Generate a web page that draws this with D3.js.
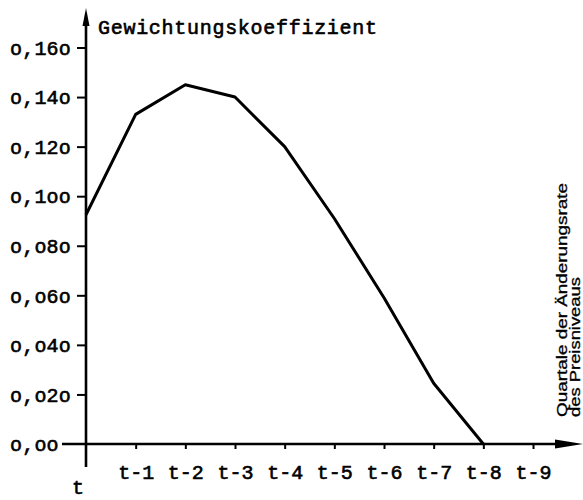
<!DOCTYPE html>
<html>
<head>
<meta charset="utf-8">
<script src="https://cdn.jsdelivr.net/npm/d3@7"></script>
<style>
  html, body { margin: 0; padding: 0; background: #fff; }
  svg { display: block; }
</style>
</head>
<body>
<svg id="chart" width="583" height="500"></svg>
<script>
// ---- data ----
const categories = ["t", "t-1", "t-2", "t-3", "t-4", "t-5", "t-6", "t-7", "t-8", "t-9"];
const weightCategories = ["t", "t-1", "t-2", "t-3", "t-4", "t-5", "t-6", "t-7", "t-8"];
const weights = [0.0925, 0.133, 0.145, 0.140, 0.120, 0.091, 0.059, 0.0245, 0.0];
const yTickValues = [0, 0.02, 0.04, 0.06, 0.08, 0.10, 0.12, 0.14, 0.16];
const yTickLabels = ["o,oo", "o,o2o", "o,o4o", "o,o6o", "o,o8o", "o,1oo", "o,12o", "o,14o", "o,16o"];
const yTitle = "Gewichtungskoeffizient";
const xTitleLines = ["Quartale der Änderungsrate", "des Preisniveaus"];

// ---- layout ----
const svg = d3.select("#chart");
const mono = "'Liberation Mono', 'DejaVu Sans Mono', monospace";
const sans = "'Liberation Sans', Arial, sans-serif";

const x = d3.scalePoint().domain(categories).range([86, 533]);
const y = d3.scaleLinear().domain([0, 0.16]).range([444, 47.5]);
const x0 = x("t"), y0 = y(0);

function typewriter(sel) {
  sel.attr("font-family", mono)
    .attr("font-size", 20)
    .attr("fill", "#000")
    .attr("stroke", "#000")
    .attr("stroke-width", 0.6);
}

// axis lines
svg.append("line").attr("x1", x0).attr("x2", x0).attr("y1", 20).attr("y2", 467)
  .attr("stroke", "#000").attr("stroke-width", 2.6);
svg.append("path")
  .attr("d", `M${x0},8 L${x0 - 3.5},26 L${x0 + 3.5},26 Z`)
  .attr("fill", "#000");
svg.append("line").attr("x1", 62).attr("x2", 570).attr("y1", y0).attr("y2", y0)
  .attr("stroke", "#000").attr("stroke-width", 2.6);
svg.append("path")
  .attr("d", `M583,${y0} L555,${y0 - 4.5} L555,${y0 + 4.5} Z`)
  .attr("fill", "#000");

// y axis ticks and labels
const yAxis = d3.axisLeft(y)
  .tickValues(yTickValues.slice(1))
  .tickSize(9)
  .tickFormat((d) => yTickLabels[yTickValues.indexOf(d)]);
const gy = svg.append("g").attr("transform", `translate(${x0},0)`).call(yAxis);
gy.select(".domain").remove();
gy.selectAll(".tick line").attr("stroke", "#000").attr("stroke-width", 2);
gy.selectAll(".tick text").remove();

svg.append("g").selectAll("text")
  .data(yTickValues)
  .join("text")
  .attr("x", 10)
  .attr("y", (d) => y(d))
  .attr("dy", "0.36em")
  .attr("letter-spacing", 0.2)
  .call(typewriter)
  .text((d, i) => yTickLabels[i]);

// x axis ticks and labels
const xAxis = d3.axisBottom(x)
  .tickValues(categories.slice(1))
  .tickSize(5)
  .tickFormat((d) => d);
const gx = svg.append("g").attr("transform", `translate(0,${y0})`).call(xAxis);
gx.select(".domain").remove();
gx.selectAll(".tick line").attr("stroke", "#000").attr("stroke-width", 2);
gx.selectAll(".tick text")
  .attr("y", 35)
  .attr("dy", 0)
  .call(typewriter);

// "t" label beneath the origin
svg.append("text")
  .attr("x", x0 - 8)
  .attr("y", 494)
  .attr("text-anchor", "middle")
  .call(typewriter)
  .text(categories[0]);

// y title
svg.append("text")
  .attr("x", 98)
  .attr("y", 34)
  .attr("textLength", 279)
  .attr("lengthAdjust", "spacing")
  .call(typewriter)
  .text(yTitle);

// x title (rotated)
const xt = svg.append("g").attr("transform", "translate(567,417) rotate(-90)");
xt.append("text")
  .attr("x", 0).attr("y", 0)
  .attr("font-family", sans)
  .attr("font-size", 14)
  .attr("textLength", 234)
  .attr("lengthAdjust", "spacingAndGlyphs")
  .attr("fill", "#000")
  .attr("stroke", "#000")
  .attr("stroke-width", 0.3)
  .text(xTitleLines[0]);
xt.append("text")
  .attr("x", 0).attr("y", 13)
  .attr("font-family", sans)
  .attr("font-size", 14)
  .attr("textLength", 140)
  .attr("lengthAdjust", "spacingAndGlyphs")
  .attr("fill", "#000")
  .attr("stroke", "#000")
  .attr("stroke-width", 0.3)
  .text(xTitleLines[1]);

// data line
const line = d3.line()
  .x((d, i) => x(weightCategories[i]))
  .y((d) => y(d));
svg.append("path")
  .datum(weights)
  .attr("d", line)
  .attr("fill", "none")
  .attr("stroke", "#000")
  .attr("stroke-width", 3)
  .attr("stroke-linejoin", "round");
</script>
</body>
</html>
